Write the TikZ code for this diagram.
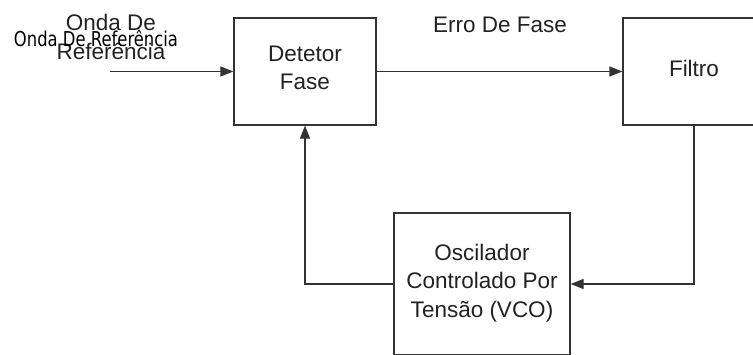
\documentclass[tikz,border=0pt]{standalone}
\usepackage{fontspec}
\setmainfont{Liberation Sans}
\newfontfamily\narrowfont[FakeStretch=0.8]{DejaVu Sans}
\usetikzlibrary{arrows.meta}
\definecolor{linec}{HTML}{333333}
\definecolor{textc}{HTML}{222222}
\tikzset{
  blk/.style={draw=linec, line width=1.3pt, fill=white, align=center, inner sep=0pt,
    font=\fontsize{22.5}{28.5}\selectfont, text=textc,
    execute at end node={\rule[-7pt]{0pt}{7pt}}},
  conn/.style={draw=linec, line width=1.3pt, -{Triangle[length=13pt,width=10pt]}},
  lbl/.style={inner sep=0pt, font=\fontsize{22.5}{28.5}\selectfont, text=textc, align=center},
}
\begin{document}
\begin{tikzpicture}[x=1pt,y=-1pt]
\useasboundingbox (0,0) rectangle (753,354);
\clip (0,0) rectangle (753,354);
\node[blk, minimum width=142pt, minimum height=107pt] (det) at (305,71.5) {Detetor\\Fase};
\node[blk, minimum width=142pt, minimum height=107pt] (fil) at (694,71.5) {Filtro};
\node[blk, minimum width=176pt, minimum height=142pt] (vco) at (482,284) {Oscilador\\Controlado Por\\Tensão (VCO)};
\coordinate (in) at (110,71.5);
\draw[conn] (in) -- (det.west);
\draw[conn] (det.east) -- (fil.west);
\draw[conn] (fil.south) |- (vco.east);
\draw[conn] (vco.west) -| (det.south);
\node[lbl, anchor=base] (erro) at (500,32) {Erro De Fase};
\node[lbl, anchor=north] (onda) at (111,14) {Onda De\\Referência};
\node[inner sep=0pt, anchor=base, font=\narrowfont\fontsize{20.5}{24}\selectfont] (onda2) at (96,46) {Onda De Referência};
\end{tikzpicture}
\end{document}
